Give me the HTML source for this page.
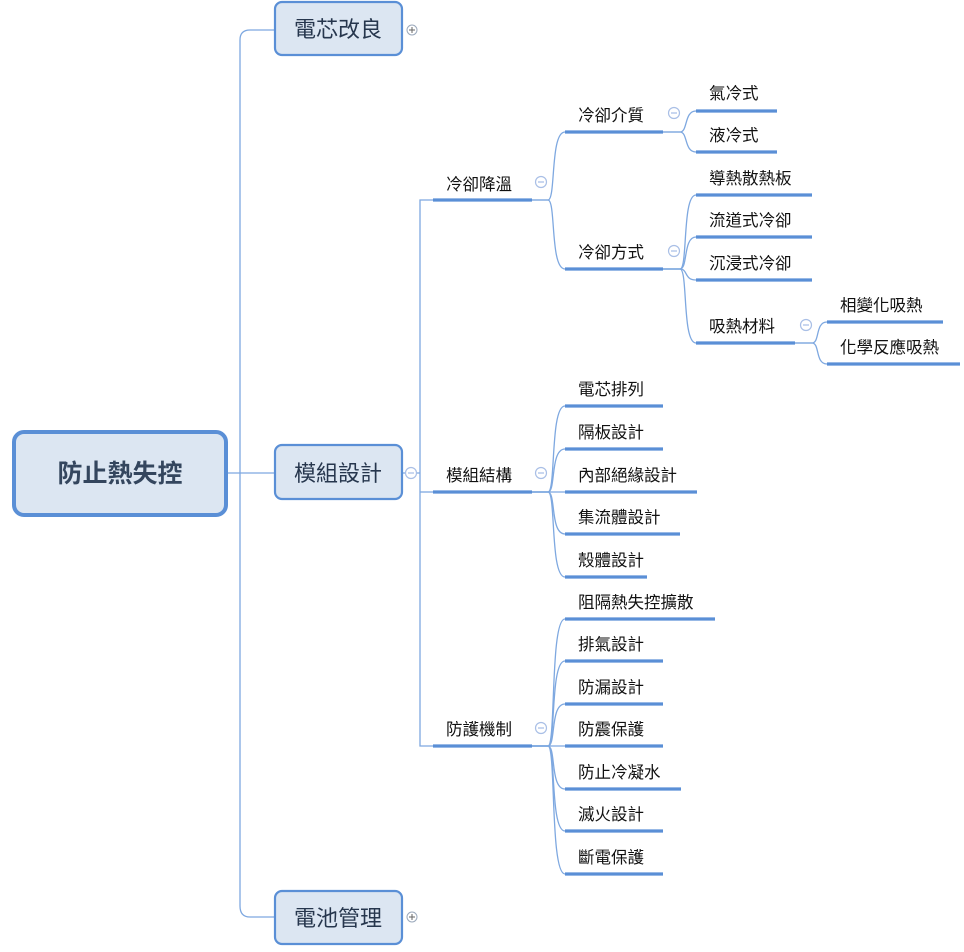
<!DOCTYPE html>
<html><head><meta charset="utf-8"><style>
html,body{margin:0;padding:0;background:#fff;width:964px;height:952px;overflow:hidden}
svg{display:block}
text{font-family:"Liberation Sans","Noto Sans CJK TC",sans-serif;fill:#111}
</style></head><body>
<svg width="964" height="952" viewBox="0 0 964 952" xmlns="http://www.w3.org/2000/svg">
<g fill="none" stroke="#7ea8e0" stroke-width="1.3">
<path d="M274,30 H250 Q240,30 240,40 V906 Q240,917 250,917 H274"/>
<path d="M228,473 H274"/>
<path d="M403,473 H420"/>
<path d="M433,200 H420 V746 H433"/>
<path d="M420,492 H433"/>
<path d="M532,200 H548 C556,200 550,132 565,132"/>
<path d="M532,200 H548 C556,200 550,269 565,269"/>
<path d="M663,132 H680 C688,132 684,111 696,111"/>
<path d="M663,132 H680 C688,132 684,152 696,152"/>
<path d="M663,269 H680 C688,269 682,195 696,195"/>
<path d="M663,269 H680 C688,269 683,237 696,237"/>
<path d="M663,269 H680 C688,269 684,280 696,280"/>
<path d="M663,269 H680 C688,269 682,343 696,343"/>
<path d="M795,343 H812 C820,343 815,322 827,322"/>
<path d="M795,343 H812 C820,343 815,364 827,364"/>
<path d="M532,492 H548 C556,492 550,406 565,406"/>
<path d="M532,492 H548 C556,492 550,449 565,449"/>
<path d="M532,492 H565"/>
<path d="M532,492 H548 C556,492 550,534 565,534"/>
<path d="M532,492 H548 C556,492 550,577 565,577"/>
<path d="M532,746 H548 C556,746 550,619 565,619"/>
<path d="M532,746 H548 C556,746 550,661 565,661"/>
<path d="M532,746 H548 C556,746 550,704 565,704"/>
<path d="M532,746 H565"/>
<path d="M532,746 H548 C556,746 550,789 565,789"/>
<path d="M532,746 H548 C556,746 550,831 565,831"/>
<path d="M532,746 H548 C556,746 550,874 565,874"/>
</g>
<rect x="14" y="432" width="212" height="83" rx="10" fill="#dce6f2" stroke="#5a8fd6" stroke-width="4"/>
<text x="120" y="482" text-anchor="middle" font-size="25" font-weight="bold" style="fill:#34465e">防止熱失控</text>
<g fill="#dce6f2" stroke="#5a8fd6" stroke-width="2.2">
<rect x="275" y="2" width="127" height="53" rx="7"/>
<rect x="275" y="445" width="127" height="54" rx="7"/>
<rect x="275" y="891" width="127" height="53" rx="7"/>
</g>
<g font-size="22" text-anchor="middle">
<text x="338" y="37" style="fill:#26364d">電芯改良</text>
<text x="338" y="481" style="fill:#26364d">模組設計</text>
<text x="338" y="926" style="fill:#26364d">電池管理</text>
</g>
<g fill="#fff" stroke="#9aa8bb" stroke-width="1">
<circle cx="412" cy="30" r="5"/><circle cx="412" cy="917" r="5"/>
</g>
<g stroke="#666" stroke-width="1"><path d="M409,30 H415 M412,27 V33 M409,917 H415 M412,914 V920"/></g>
<g fill="#fff" stroke="#a9bfe6" stroke-width="1.2">
<circle cx="411" cy="473" r="5.5"/><circle cx="541" cy="182" r="5.5"/><circle cx="541" cy="473" r="5.5"/>
<circle cx="541" cy="728" r="5.5"/><circle cx="674" cy="113" r="5.5"/><circle cx="674" cy="251" r="5.5"/><circle cx="806" cy="325" r="5.5"/>
</g>
<g stroke="#a9bfe6" stroke-width="1.2"><path d="M408,473 H414 M538,182 H544 M538,473 H544 M538,728 H544 M671,113 H677 M671,251 H677 M803,325 H809"/></g>
<g stroke="#5a8fd6" stroke-width="3.2">
<path d="M433,200 H532 M433,492 H532 M433,746 H532"/>
<path d="M565,132 H663 M565,269 H663"/>
<path d="M696,111 H777 M696,152 H777 M696,195 H812 M696,237 H812 M696,280 H812 M696,343 H795"/>
<path d="M827,322 H943 M827,364 H960"/>
<path d="M565,406 H663 M565,449 H663 M565,492 H697 M565,534 H680 M565,577 H647"/>
<path d="M565,619 H715 M565,661 H663 M565,704 H663 M565,746 H663 M565,789 H681 M565,831 H663 M565,874 H663"/>
</g>
<g font-size="16.5">
<text x="446" y="190">冷卻降溫</text>
<text x="446" y="481">模組結構</text>
<text x="446" y="735">防護機制</text>
<text x="578" y="121">冷卻介質</text>
<text x="578" y="258">冷卻方式</text>
<text x="709" y="99">氣冷式</text>
<text x="709" y="141">液冷式</text>
<text x="709" y="184">導熱散熱板</text>
<text x="709" y="226">流道式冷卻</text>
<text x="709" y="269">沉浸式冷卻</text>
<text x="709" y="332">吸熱材料</text>
<text x="840" y="311">相變化吸熱</text>
<text x="840" y="353">化學反應吸熱</text>
<text x="578" y="395">電芯排列</text>
<text x="578" y="438">隔板設計</text>
<text x="578" y="481">內部絕緣設計</text>
<text x="578" y="523">集流體設計</text>
<text x="578" y="566">殼體設計</text>
<text x="578" y="608">阻隔熱失控擴散</text>
<text x="578" y="650">排氣設計</text>
<text x="578" y="693">防漏設計</text>
<text x="578" y="735">防震保護</text>
<text x="578" y="778">防止冷凝水</text>
<text x="578" y="820">滅火設計</text>
<text x="578" y="863">斷電保護</text>
</g>
</svg>
</body></html>
